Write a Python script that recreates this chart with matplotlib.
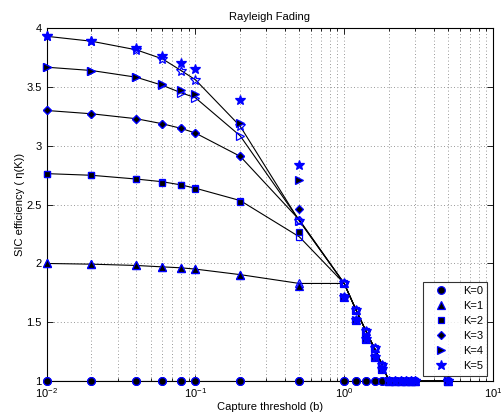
import matplotlib
matplotlib.use("Agg")
import matplotlib.pyplot as plt
from matplotlib.ticker import LogLocator, NullFormatter

plt.rcParams['font.family'] = ['Liberation Sans', 'DejaVu Sans']
plt.rcParams['mathtext.fontset'] = 'custom'
plt.rcParams['mathtext.rm'] = 'Liberation Sans'

# capture threshold values
b = [0.01, 0.02, 0.04, 0.06, 0.08, 0.1, 0.2, 0.5, 1.0, 1.2, 1.4, 1.6,
     1.8, 2.0, 2.2, 2.4, 2.6, 2.8, 3.0, 5.0]

# analytical SIC efficiency (lines + open markers)
ana_k0 = [1.0] * 20
ana_k1 = [2.0, 1.994, 1.983, 1.971, 1.963, 1.952, 1.905, 1.83, 1.83, 1.605,
          1.425, 1.278, 1.137, 1.0, 1.0, 1.0, 1.0, 1.0, 1.0, 1.0]
ana_k2 = [2.764, 2.750, 2.718, 2.695, 2.668, 2.640, 2.535, 2.226, 1.83, 1.605,
          1.425, 1.278, 1.137, 1.0, 1.0, 1.0, 1.0, 1.0, 1.0, 1.0]
ana_k3 = [3.301, 3.273, 3.231, 3.188, 3.149, 3.109, 2.911, 2.37, 1.83, 1.605,
          1.425, 1.278, 1.137, 1.0, 1.0, 1.0, 1.0, 1.0, 1.0, 1.0]
ana_k4 = [3.669, 3.641, 3.584, 3.515, 3.452, 3.409, 3.085, 2.365, 1.83, 1.605,
          1.425, 1.278, 1.137, 1.0, 1.0, 1.0, 1.0, 1.0, 1.0, 1.0]
ana_k5 = [3.932, 3.890, 3.817, 3.740, 3.641, 3.562, 3.167, 2.36, 1.83, 1.605,
          1.425, 1.278, 1.137, 1.0, 1.0, 1.0, 1.0, 1.0, 1.0, 1.0]

# simulated SIC efficiency (filled markers)
sim_k0 = [1.0] * 20
sim_k1 = [2.0, 1.994, 1.983, 1.971, 1.963, 1.952, 1.90, 1.81, 1.716, 1.519,
          1.355, 1.207, 1.10, 1.0, 1.0, 1.0, 1.0, 1.0, 1.0, 1.0]
sim_k2 = [2.764, 2.750, 2.718, 2.688, 2.665, 2.637, 2.523, 2.268, 1.716, 1.519,
          1.355, 1.207, 1.10, 1.0, 1.0, 1.0, 1.0, 1.0, 1.0, 1.0]
sim_k3 = [3.301, 3.273, 3.231, 3.188, 3.149, 3.109, 2.911, 2.467, 1.716, 1.519,
          1.355, 1.207, 1.10, 1.0, 1.0, 1.0, 1.0, 1.0, 1.0, 1.0]
sim_k4 = [3.669, 3.641, 3.584, 3.528, 3.477, 3.437, 3.194, 2.713, 1.716, 1.519,
          1.355, 1.207, 1.10, 1.0, 1.0, 1.0, 1.0, 1.0, 1.0, 1.0]
sim_k5 = [3.932, 3.890, 3.834, 3.766, 3.709, 3.652, 3.392, 2.834, 1.716, 1.519,
          1.355, 1.207, 1.10, 1.0, 1.0, 1.0, 1.0, 1.0, 1.0, 1.0]

y_ticks = [1, 1.5, 2, 2.5, 3, 3.5, 4]
y_tick_labels = ['1', '1.5', '2', '2.5', '3', '3.5', '4']

labels = ['K=0', 'K=1', 'K=2', 'K=3', 'K=4', 'K=5']
markers = ['o', '^', 's', 'D', '>', '*']
sizes = [5.5, 5.5, 5, 4.5, 5.5, 7.5]
analytic = [ana_k0, ana_k1, ana_k2, ana_k3, ana_k4, ana_k5]
simulated = [sim_k0, sim_k1, sim_k2, sim_k3, sim_k4, sim_k5]

blue = '#0000ff'

fig = plt.figure(figsize=(5.02, 4.16), dpi=100)
ax = fig.add_axes([0.093, 0.084, 0.889, 0.848])

handles = []
for k in range(6):
    ax.plot(b, analytic[k], color='black', linewidth=0.8, zorder=2)
    ax.plot(b, analytic[k], linestyle='none', marker=markers[k],
            markersize=sizes[k], markerfacecolor='none',
            markeredgecolor=blue, markeredgewidth=0.9, zorder=3,
            clip_on=False)
    face = blue if markers[k] == '*' else 'black'
    h, = ax.plot(b, simulated[k], linestyle='none', marker=markers[k],
                 markersize=sizes[k], markerfacecolor=face,
                 markeredgecolor=blue, markeredgewidth=0.9, zorder=4,
                 clip_on=False, label=labels[k])
    handles.append(h)

ax.set_xscale('log')
ax.set_xlim(1e-2, 1e1)
ax.set_ylim(1, 4)
ax.set_yticks(y_ticks)
ax.set_yticklabels(y_tick_labels)
ax.xaxis.set_major_locator(LogLocator(base=10, numticks=10))
ax.xaxis.set_minor_locator(LogLocator(base=10, subs=range(2, 10), numticks=20))
ax.xaxis.set_minor_formatter(NullFormatter())

ax.grid(True, which='major', linestyle=(0, (1, 3)), color='#777777', linewidth=0.6)
ax.grid(True, which='minor', axis='x', linestyle=(0, (1, 3)), color='#777777', linewidth=0.6)

ax.tick_params(which='both', direction='in', top=True, right=True,
               labelsize=8, width=0.6)
ax.tick_params(which='major', length=4)
ax.tick_params(which='minor', length=2)
for s in ax.spines.values():
    s.set_linewidth(0.8)

ax.set_title('Rayleigh Fading', fontsize=8, pad=6)
ax.set_xlabel('Capture threshold (b)', fontsize=8, labelpad=2)
ax.set_ylabel('SIC efficiency ( η(K))', fontsize=8, labelpad=1)

leg = ax.legend(handles=handles, loc='lower right', fontsize=8,
                frameon=True, fancybox=False, edgecolor='black',
                handlelength=2.4, handletextpad=0.8, borderpad=0.4,
                labelspacing=0.45, borderaxespad=0.5)
leg.get_frame().set_linewidth(0.8)

fig.savefig('out.png', dpi=100)
